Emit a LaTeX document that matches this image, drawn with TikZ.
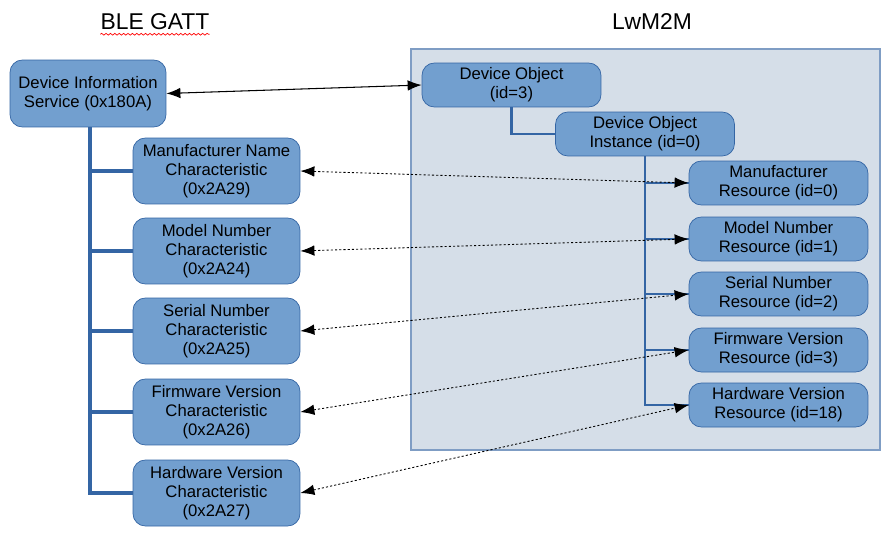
\documentclass[tikz,border=0pt]{standalone}
\usepackage{fontspec}
\setmainfont{Liberation Sans}
\usetikzlibrary{arrows.meta,decorations.pathmorphing}
\definecolor{boxfill}{HTML}{729FCF}
\definecolor{boxline}{HTML}{3465A4}
\definecolor{lwmfill}{HTML}{D5DEE8}
\definecolor{lwmline}{HTML}{7F9DC4}

\begin{document}
\begin{tikzpicture}[
                x=0.02cm, y=-0.02cm,
                font=\fontsize{9.5}{10.8}\selectfont,
                >={Latex[length=8pt,width=6pt]},
                % Stile comune dei blocchi
                block/.style={
                    draw=boxline,
                    fill=boxfill,
                    rounded corners=7pt,
                    align=center,
                    inner sep=0pt
                },
                service/.style={block, minimum width=3.12cm, minimum height=1.34cm},
                charac/.style={block, minimum width=3.34cm, minimum height=1.32cm},
                resource/.style={block, minimum width=3.58cm, minimum height=0.88cm},
                title/.style={font=\fontsize{13}{15}\selectfont, inner sep=0pt},
                tree/.style={boxline, line width=2.3pt},
                branch/.style={boxline, line width=1.4pt},
                link/.style={<->, dash pattern=on 1.2pt off 1.2pt, line width=0.5pt}
            ]

                \useasboundingbox (0,0) rectangle (889,541);

                % --- Titoli ---
                \node[title] (ttlgatt) at (155,22) {BLE GATT};
                \draw[red, line width=0.4pt, decorate,
                      decoration={snake, amplitude=0.5pt, segment length=2.5pt}]
                    ([yshift=-2.5pt]ttlgatt.base west) -- ([yshift=-2.5pt]ttlgatt.base east);
                \node[title] (ttllwm) at (652,22) {LwM2M};

                % --- Riquadro LwM2M ---
                \draw[lwmline, fill=lwmfill, line width=0.8pt] (411,49) rectangle (880,450);

                % --- Lato BLE GATT ---
                \node[service] (dis) at (88,93.5) {Device Information\\Service (0x180A)};
                \node[charac] (c1) at (216.5,171) {Manufacturer Name\\Characteristic\\(0x2A29)};
                \node[charac] (c2) at (216.5,251) {Model Number\\Characteristic\\(0x2A24)};
                \node[charac] (c3) at (216.5,331) {Serial Number\\Characteristic\\(0x2A25)};
                \node[charac] (c4) at (216.5,412) {Firmware Version\\Characteristic\\(0x2A26)};
                \node[charac] (c5) at (216.5,493) {Hardware Version\\Characteristic\\(0x2A27)};

                % --- Lato LwM2M ---
                \node[resource] (obj) at (511.5,85) {Device Object\\(id=3)};
                \node[resource] (inst) at (645,134) {Device Object\\Instance (id=0)};
                \node[resource] (r1) at (778.5,183) {Manufacturer\\Resource (id=0)};
                \node[resource] (r2) at (778.5,239) {Model Number\\Resource (id=1)};
                \node[resource] (r3) at (778.5,294) {Serial Number\\Resource (id=2)};
                \node[resource] (r4) at (778.5,350) {Firmware Version\\Resource (id=3)};
                \node[resource] (r5) at (778.5,405) {Hardware Version\\Resource (id=18)};

                % --- Albero GATT ---
                \draw[tree] ([xshift=1pt]dis.south) -- ([xshift=1pt]dis.south |- c5.west) -- (c5.west);
                \foreach \c in {c1,c2,c3,c4}
                    \draw[tree] ([xshift=1pt]dis.south |- \c.west) -- (\c.west);

                % --- Albero LwM2M ---
                \draw[boxline, line width=1.2pt] (obj.south) |- (inst.west);
                \draw[branch] (inst.south) |- (r5.west);
                \foreach \r in {r1,r2,r3,r4}
                    \draw[branch] (inst.south |- \r.west) -- (\r.west);

                % --- Collegamenti ---
                \draw[<->, line width=0.6pt] (dis.east) -- (obj.west);
                \foreach \i in {1,...,5}
                    \draw[link] (c\i.east) -- (r\i.west);

            \end{tikzpicture}
\end{document}
